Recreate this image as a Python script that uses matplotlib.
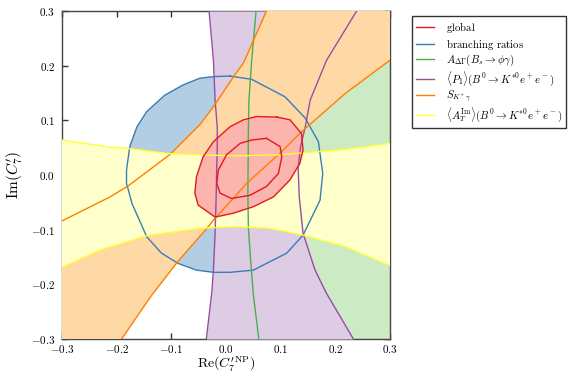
import matplotlib
matplotlib.use("Agg")
import matplotlib.pyplot as plt

plt.rcParams["mathtext.fontset"] = "cm"
plt.rcParams["font.family"] = "serif"

XLIM = (-0.3, 0.3)
YLIM = (-0.3, 0.3)
TICKS = [-0.3, -0.2, -0.1, 0.0, 0.1, 0.2, 0.3]
TICK_LABELS = [r"$-0.3$", r"$-0.2$", r"$-0.1$", r"$0.0$", r"$0.1$", r"$0.2$", r"$0.3$"]

# branching ratios: closed contour (x, y)
br_x = [0.007, 0.047, 0.108, 0.145, 0.169, 0.177, 0.172, 0.141, 0.111, 0.050, 0.007,
        -0.023, -0.054, -0.087, -0.118, -0.145, -0.172, -0.182, -0.182, -0.176, -0.163,
        -0.145, -0.112, -0.078, -0.048, -0.023]
br_y = [0.181, 0.175, 0.143, 0.104, 0.061, 0.003, -0.046, -0.110, -0.143, -0.174, -0.178,
        -0.178, -0.174, -0.162, -0.143, -0.113, -0.052, -0.015, 0.009, 0.052, 0.088,
        0.116, 0.146, 0.165, 0.177, 0.180]

# A_DeltaGamma: allowed right of this curve (x as function of y)
adg_y = [0.3, 0.21, 0.137, 0.088, -0.033, -0.097, -0.155, -0.219, -0.3]
adg_x = [0.055, 0.047, 0.042, 0.041, 0.040, 0.041, 0.045, 0.050, 0.060]

# <P1>: band between two curves (x as function of y)
p1_y = [0.3, 0.21, 0.137, 0.088, 0.05, 0.012, -0.04, -0.107, -0.174, -0.215, -0.3]
p1_left = [-0.031, -0.023, -0.020, -0.016, -0.016, -0.017, -0.018, -0.020, -0.023, -0.026, -0.036]
p1_right = [0.239, 0.184, 0.154, 0.145, 0.136, 0.132, 0.134, 0.141, 0.163, 0.183, 0.233]

# S_K*gamma: band between two curves
sk_up_x = [-0.3, -0.212, -0.179, -0.102, -0.047, -0.023, 0.016, 0.032, 0.074]
sk_up_y = [-0.084, -0.040, -0.020, 0.038, 0.093, 0.125, 0.183, 0.205, 0.3]
sk_lo_x = [-0.191, -0.136, -0.087, -0.035, -0.020, 0.016, 0.038, 0.099, 0.137, 0.218, 0.3]
sk_lo_y = [-0.3, -0.22, -0.157, -0.0975, -0.079, -0.040, -0.015, 0.040, 0.078, 0.149, 0.210]

# <A_T^Im>: band between upper and lower curves
at_up_x = [-0.3, -0.212, -0.182, -0.102, -0.048, 0.016, 0.099, 0.172, 0.218, 0.3]
at_up_y = [0.064, 0.051, 0.049, 0.039, 0.037, 0.035, 0.037, 0.043, 0.047, 0.058]
at_lo_x = [-0.3, -0.230, -0.145, -0.048, 0.016, 0.080, 0.141, 0.218, 0.3]
at_lo_y = [-0.169, -0.137, -0.111, -0.0975, -0.0946, -0.0975, -0.110, -0.131, -0.166]

# global fit: 1 and 2 sigma contours
g2_x = [0.093, 0.056, 0.032, 0.007, -0.023, -0.042, -0.054, -0.057, -0.051, -0.020,
        0.013, 0.050, 0.087, 0.117, 0.135, 0.141, 0.138, 0.117]
g2_y = [0.106, 0.107, 0.101, 0.088, 0.061, 0.033, -0.003, -0.033, -0.055, -0.077,
        -0.070, -0.058, -0.040, -0.009, 0.021, 0.046, 0.076, 0.101]
g1_x = [0.074, 0.047, 0.026, 0.001, -0.014, -0.017, -0.011, 0.010, 0.044, 0.074,
        0.096, 0.102, 0.099]
g1_y = [0.067, 0.064, 0.058, 0.037, 0.009, -0.015, -0.033, -0.043, -0.037, -0.021,
        0.003, 0.033, 0.052]

FILL = {"red": "#fbb4ae", "blue": "#b3cde3", "green": "#ccebc5",
        "purple": "#decbe4", "orange": "#fed9a6", "yellow": "#ffffcc"}
LINE = {"red": "#e41a1c", "blue": "#377eb8", "green": "#4daf4a",
        "purple": "#984ea3", "orange": "#ff7f00", "yellow": "#ffff33"}
LW = 1.0


def closed(xs, ys):
    return list(xs) + [xs[0]], list(ys) + [ys[0]]


def main():
    fig = plt.figure(figsize=(5.7, 3.76), dpi=100)
    ax = fig.add_axes([62 / 570, 1 - 339 / 376, 328 / 570, 328 / 376])

    # fills, stacked
    ax.fill(br_x, br_y, color=FILL["blue"], lw=0, zorder=1)
    ax.fill_betweenx(adg_y, adg_x, [XLIM[1] + 0.05] * len(adg_y),
                     color=FILL["green"], lw=0, zorder=2)
    ax.fill_betweenx(p1_y, p1_left, p1_right, color=FILL["purple"], lw=0, zorder=3)
    sk_px = sk_up_x + [XLIM[1] + 0.05, XLIM[1] + 0.05] + sk_lo_x[::-1] + [XLIM[0] - 0.05, XLIM[0] - 0.05]
    sk_py = sk_up_y + [YLIM[1] + 0.05, sk_lo_y[-1]] + sk_lo_y[::-1] + [YLIM[0] - 0.05, sk_up_y[0]]
    ax.fill(sk_px, sk_py, color=FILL["orange"], lw=0, zorder=4)
    ax.fill(at_up_x + at_lo_x[::-1], at_up_y + at_lo_y[::-1],
            color=FILL["yellow"], lw=0, zorder=5)
    ax.fill(g2_x, g2_y, color=FILL["red"], lw=0, zorder=6)

    # contour lines on top
    ax.plot(*closed(br_x, br_y), color=LINE["blue"], lw=LW, zorder=10)
    ax.plot(adg_x, adg_y, color=LINE["green"], lw=LW, zorder=10)
    ax.plot(p1_left, p1_y, color=LINE["purple"], lw=LW, zorder=10)
    ax.plot(p1_right, p1_y, color=LINE["purple"], lw=LW, zorder=10)
    ax.plot(sk_up_x, sk_up_y, color=LINE["orange"], lw=LW, zorder=10)
    ax.plot(sk_lo_x, sk_lo_y, color=LINE["orange"], lw=LW, zorder=10)
    ax.plot(at_up_x, at_up_y, color=LINE["yellow"], lw=LW, zorder=10)
    ax.plot(at_lo_x, at_lo_y, color=LINE["yellow"], lw=LW, zorder=10)
    ax.plot(*closed(g2_x, g2_y), color=LINE["red"], lw=LW, zorder=11)
    ax.plot(*closed(g1_x, g1_y), color=LINE["red"], lw=LW, zorder=11)

    ax.set_xlim(*XLIM)
    ax.set_ylim(*YLIM)
    ax.set_xticks(TICKS)
    ax.set_xticklabels(TICK_LABELS)
    ax.set_yticks(TICKS)
    ax.set_yticklabels(TICK_LABELS)
    ax.tick_params(direction="in", top=True, right=True, length=4, width=1,
                   labelsize=8, colors="#333333", labelcolor="black", pad=5)
    ax.tick_params(axis="x", pad=3)
    for sp in ax.spines.values():
        sp.set_color("#444444")
        sp.set_linewidth(1.0)
    ax.set_xlabel(r"$\mathrm{Re}(C_7^{\prime\,\mathrm{NP}})$", fontsize=10, labelpad=-0.5)
    ax.set_ylabel(r"$\mathrm{Im}(C_7^{\prime})$", fontsize=11, labelpad=4)

    labels = [r"$\mathrm{global}$",
              r"$\mathrm{branching\ ratios}$",
              r"$A_{\Delta\Gamma}(B_s\to\phi\gamma)$",
              r"$\langle P_1\rangle(B^0\to K^{*0}e^+e^-)$",
              r"$S_{K^*\gamma}$",
              r"$\langle A_T^{\mathrm{Im}}\rangle(B^0\to K^{*0}e^+e^-)$"]
    handles = [plt.Line2D([], [], color=LINE[c], lw=LW)
               for c in ["red", "blue", "green", "purple", "orange", "yellow"]]
    leg = ax.legend(handles, labels, loc="upper left", bbox_to_anchor=(1.067, 0.985),
                    fontsize=7.8, frameon=True, fancybox=False, handlelength=1.6,
                    borderaxespad=0, labelspacing=0.12, borderpad=0.4, handletextpad=1.1)
    leg.get_frame().set_edgecolor("black")
    leg.get_frame().set_linewidth(1.0)

    fig.savefig("out.png", dpi=100)


if __name__ == "__main__":
    main()
